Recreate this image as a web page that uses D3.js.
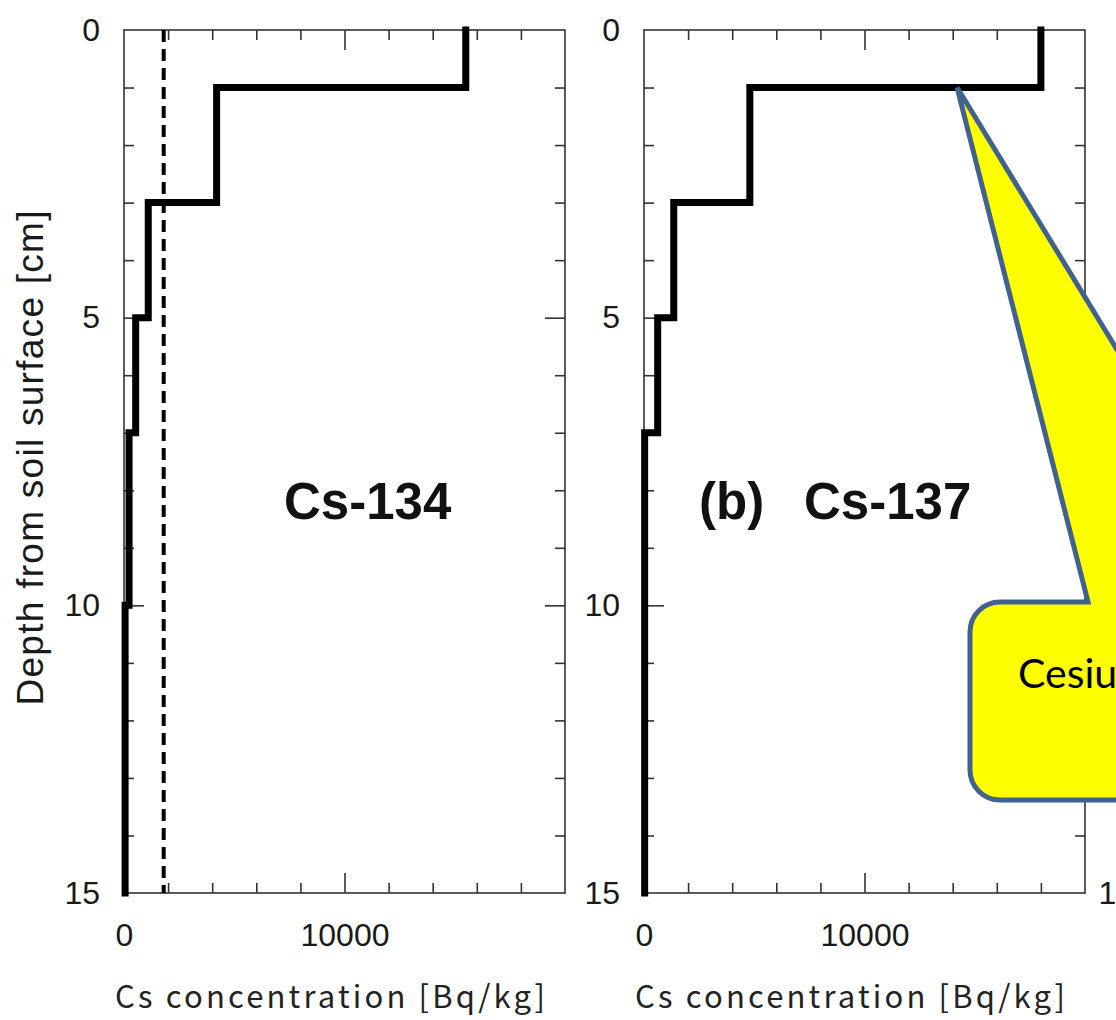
<!DOCTYPE html>
<html>
<head>
<meta charset="utf-8">
<script src="https://cdn.jsdelivr.net/npm/d3@7"></script>
<style>
  body { margin: 0; background: #fff; }
  svg { display: block; }
</style>
</head>
<body>
<div id="chart"></div>
<script>

// layer boundaries [cm] and concentration in each layer [Bq/kg]
var depthEdges = [0, 1, 3, 5, 7, 10, 15];
var cs134 = [15500, 4200, 1100, 530, 230, 50];
var cs137 = [18000, 4800, 1350, 620, 30, 30];
var cs134Dashed = 1800;

var panelTags = ["", "(b)"];
var panelNames = ["Cs-134", "Cs-137"];
var xMinorTicks = [2000, 4000, 6000, 8000, 12000, 14000, 16000, 18000];
var xMajorTicks = [10000];
var xTickLabels = [0, 10000];
var yMinorTicks = [1, 2, 3, 4, 6, 7, 8, 9, 11, 12, 13, 14];
var yMajorTicks = [5, 10];
var yTickLabels = [0, 5, 10, 15];
var xTitle = "Cs concentration [Bq/kg]";
var yTitle = "Depth from soil surface  [cm]";

// call-out box pointing at the 1 cm step of Cs-137
var calloutAnchor = {conc: 14200, depth: 1};
var calloutText = "Cesium";

var W = 1116, H = 1020;
var plotTop = 30, plotBottom = 893;
var panelLeft = [124, 644, 1158];
var panelW = 441;
var numFont = "'Liberation Sans', Arial, sans-serif";

var svg = d3.select("#chart").append("svg")
    .attr("width", W)
    .attr("height", H);

svg.append("rect").attr("width", W).attr("height", H).attr("fill", "#fff");

var y = d3.scaleLinear().domain([0, 15]).range([plotTop, plotBottom]);

function tickStyle(g)
{
  g.select(".domain").remove();
  g.selectAll(".tick line").attr("stroke", "#333").attr("stroke-width", 1.6);
  g.selectAll("text")
    .style("font-family", numFont)
    .style("font-size", "32px")
    .attr("fill", "#1a1a1a");
}

function panel(i, values, dashed)
{
  var x0 = panelLeft[i];
  var x = d3.scaleLinear().domain([0, 20000]).range([x0, x0 + panelW]);
  var g = svg.append("g");

  // inward ticks on all four sides
  g.append("g").attr("transform", "translate(0," + plotTop + ")")
    .call(d3.axisTop(x).tickValues(xMinorTicks).tickSize(-10).tickFormat("")).call(tickStyle);
  g.append("g").attr("transform", "translate(0," + plotTop + ")")
    .call(d3.axisTop(x).tickValues(xMajorTicks).tickSize(-20).tickFormat("")).call(tickStyle);
  g.append("g").attr("transform", "translate(0," + plotBottom + ")")
    .call(d3.axisBottom(x).tickValues(xMinorTicks).tickSize(-10).tickFormat("")).call(tickStyle);
  g.append("g").attr("transform", "translate(0," + plotBottom + ")")
    .call(d3.axisBottom(x).tickValues(xMajorTicks).tickSize(-20).tickFormat("")).call(tickStyle);

  g.append("g").attr("transform", "translate(" + x0 + ",0)")
    .call(d3.axisLeft(y).tickValues(yMinorTicks).tickSize(-10).tickFormat("")).call(tickStyle);
  g.append("g").attr("transform", "translate(" + x0 + ",0)")
    .call(d3.axisLeft(y).tickValues(yMajorTicks).tickSize(-20).tickFormat("")).call(tickStyle);
  g.append("g").attr("transform", "translate(" + (x0 + panelW) + ",0)")
    .call(d3.axisRight(y).tickValues(yMinorTicks).tickSize(-10).tickFormat("")).call(tickStyle);
  g.append("g").attr("transform", "translate(" + (x0 + panelW) + ",0)")
    .call(d3.axisRight(y).tickValues(yMajorTicks).tickSize(-20).tickFormat("")).call(tickStyle);

  // tick labels
  g.append("g").attr("transform", "translate(0," + plotBottom + ")")
    .call(d3.axisBottom(x).tickValues(xTickLabels).tickSize(0).tickPadding(30).tickFormat(d3.format("d")))
    .call(tickStyle);
  g.append("g").attr("transform", "translate(" + x0 + ",0)")
    .call(d3.axisLeft(y).tickValues(yTickLabels).tickSize(0).tickPadding(24))
    .call(tickStyle);

  g.append("rect")
    .attr("x", x0)
    .attr("y", plotTop)
    .attr("width", panelW)
    .attr("height", plotBottom - plotTop)
    .attr("fill", "none")
    .attr("stroke", "#333")
    .attr("stroke-width", 1.6);

  if (dashed != null) {
    g.append("line")
      .attr("x1", x(dashed)).attr("x2", x(dashed))
      .attr("y1", y(0)).attr("y2", y(15))
      .attr("stroke", "#000")
      .attr("stroke-width", 4)
      .attr("stroke-dasharray", "12,7");
  }

  // step profile: each layer is a vertical segment, joined by horizontals
  var pts = [];
  values.forEach(function(v, k) {
    pts.push([v, depthEdges[k]]);
    pts.push([v, depthEdges[k + 1]]);
  });
  var line = d3.line()
    .x(function(d) { return x(d[0]); })
    .y(function(d) { return y(d[1]); });

  g.append("path")
    .attr("d", line(pts))
    .attr("fill", "none")
    .attr("stroke", "#000")
    .attr("stroke-width", 7)
    .attr("stroke-linejoin", "miter")
    .attr("stroke-linecap", "square");

  if (panelTags[i]) {
    g.append("text")
      .attr("x", x0 + 55)
      .attr("y", 519)
      .style("font-family", numFont)
      .style("font-size", "51px")
      .style("font-weight", "bold")
      .attr("fill", "#111")
      .text(panelTags[i]);
  }
  g.append("text")
    .attr("x", x0 + 160)
    .attr("y", 519)
    .style("font-family", numFont)
    .style("font-size", "51px")
    .style("font-weight", "bold")
    .attr("fill", "#111")
    .text(panelNames[i]);

  g.append("text")
    .attr("x", x0 + 206)
    .attr("y", 1008)
    .attr("text-anchor", "middle")
    .attr("textLength", 430)
    .attr("lengthAdjust", "spacing")
    .style("font-family", "'Noto Sans CJK JP', 'DejaVu Sans', sans-serif")
    .style("font-size", "31px")
    .attr("fill", "#222")
    .text(xTitle);

  return x;
}

panel(0, cs134, cs134Dashed);
var x137 = panel(1, cs137, null);

// third panel is off to the right; only its "15" label peeks in
svg.append("g").attr("transform", "translate(" + panelLeft[2] + ",0)")
  .call(d3.axisLeft(y).tickValues([15]).tickSize(0).tickPadding(24))
  .call(tickStyle);

svg.append("text")
  .attr("transform", "translate(43,458) rotate(-90)")
  .attr("text-anchor", "middle")
  .attr("textLength", 495)
  .attr("lengthAdjust", "spacing")
  .style("font-family", numFont)
  .style("font-size", "37px")
  .attr("fill", "#1a1a1a")
  .text(yTitle);

// yellow call-out
var tipX = x137(calloutAnchor.conc), tipY = y(calloutAnchor.depth);
var bx = 970, by = 602, bb = 800, r = 30;
var callout = "M" + (bx + r) + "," + by +
  " L1088," + by +
  " L" + tipX + "," + tipY +
  " L1271," + by +
  " L1330," + by + " L1330," + bb +
  " L" + (bx + r) + "," + bb +
  " A" + r + "," + r + " 0 0 1 " + bx + "," + (bb - r) +
  " L" + bx + "," + (by + r) +
  " A" + r + "," + r + " 0 0 1 " + (bx + r) + "," + by + " Z";

svg.append("path")
  .attr("d", callout)
  .attr("fill", "#ffff00")
  .attr("stroke", "#41618f")
  .attr("stroke-width", 5)
  .attr("stroke-linejoin", "miter");

svg.append("text")
  .attr("x", 1018)
  .attr("y", 688)
  .style("font-family", "Lato, 'Open Sans', sans-serif")
  .style("font-size", "41px")
  .attr("fill", "#000")
  .text(calloutText);

</script>
</body>
</html>
